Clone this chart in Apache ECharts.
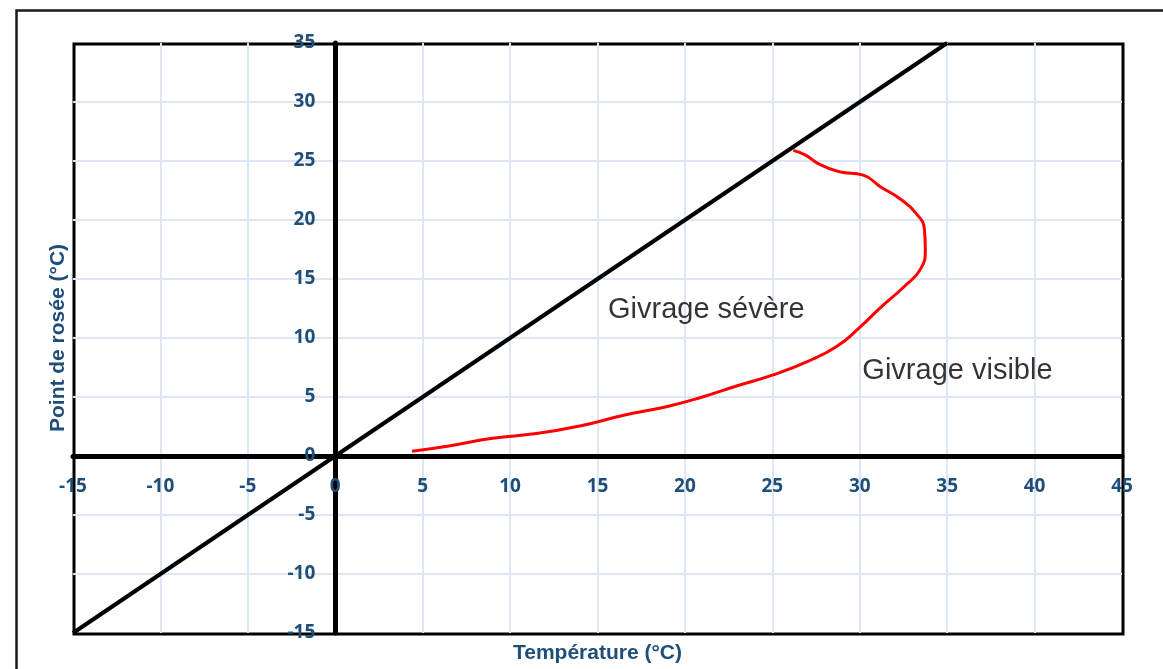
<!DOCTYPE html>
<html>
<head>
<meta charset="utf-8">
<title>Givrage – point de rosée / température</title>
<script src="https://cdn.jsdelivr.net/npm/echarts@6/dist/echarts.min.js"></script>
<style>
  html, body { margin: 0; padding: 0; background: #ffffff; }
  #chart { width: 1163px; height: 669px; }
</style>
</head>
<body>
<div id="chart"></div>
<script>
// Axis ranges and tick step (°C)
const xRange = [-15, 45];
const yRange = [-15, 35];
const tickStep = 5;

// Saturation line: dew point equals temperature
const saturationTemp = [-15, 35];
const saturationDew = [-15, 35];

// Boundary of the icing envelope (temperature, dew point)
const envelopeTemp = [4.4, 6.5, 9.0, 11.5, 14.0, 16.5, 19.0, 21.0, 23.0, 25.0, 27.0, 28.7, 30.0,
  31.2, 32.5, 33.5, 33.75, 33.7, 33.2, 32.3, 31.2, 30.2, 28.8, 27.6, 26.9, 26.2];
const envelopeDew = [0.4, 0.85, 1.5, 1.9, 2.55, 3.45, 4.2, 5.0, 5.95, 6.85, 8.0, 9.3, 10.9,
  12.6, 14.3, 15.9, 17.5, 19.2, 20.6, 21.8, 22.8, 23.8, 24.1, 24.8, 25.5, 25.9];

// Zone captions and their anchor points (temperature, dew point)
const zoneNames = ['Givrage sévère', 'Givrage visible'];
const zoneTemp = [15.6, 30.15];
const zoneDew = [12.4, 7.2];

const xTitle = 'Température (°C)';
const yTitle = 'Point de rosée (°C)';

const zip = (a, b) => a.map((v, i) => [v, b[i]]);

// Plot area geometry (px)
const W = 1163, H = 669;
const gridBox = { left: 73, top: 43, right: 41, bottom: 36 };
const plotW = W - gridBox.left - gridBox.right;
const plotH = H - gridBox.top - gridBox.bottom;
// Shift the labelled axes inward so they sit on the zero lines
const xAxisShift = -plotH * (0 - yRange[0]) / (yRange[1] - yRange[0]);
const yAxisShift = -plotW * (0 - xRange[0]) / (xRange[1] - xRange[0]);

const labelColor = '#1F4E79';
const gridColor = '#DCE6F4';

const tickLabel = {
  color: labelColor,
  fontFamily: 'Open Sans',
  fontWeight: 'bold',
  fontSize: 19
};

const splitStyle = {
  show: true,
  showMinLine: false,
  showMaxLine: false,
  lineStyle: { color: gridColor, width: 2 }
};

const chart = echarts.init(document.getElementById('chart'), null, { renderer: 'canvas' });

chart.setOption({
  animation: false,
  backgroundColor: '#ffffff',
  graphic: [{
    // outer frame
    type: 'rect',
    left: 14,
    top: 8,
    shape: { width: 1200, height: 700 },
    style: { fill: 'none', stroke: '#1a1a1a', lineWidth: 2.5 },
    z: -1
  }, {
    // plot area frame
    type: 'rect',
    left: gridBox.left - 1.5,
    top: gridBox.top - 1.5,
    shape: { width: plotW, height: plotH },
    style: { fill: 'none', stroke: '#000000', lineWidth: 3 },
    z: 0
  }],
  grid: Object.assign({
    show: false
  }, gridBox),
  xAxis: [{
    type: 'value',
    min: xRange[0], max: xRange[1], interval: tickStep,
    position: 'bottom',
    offset: xAxisShift,
    axisLine: { show: true, onZero: false, lineStyle: { color: '#000000', width: 5 } },
    axisTick: { show: false },
    axisLabel: Object.assign({ margin: 21 }, tickLabel),
    splitLine: splitStyle
  }, {
    type: 'value',
    min: xRange[0], max: xRange[1], interval: tickStep,
    position: 'bottom',
    axisLine: { show: false, onZero: false },
    axisTick: { show: false },
    axisLabel: { show: false },
    splitLine: { show: false },
    name: xTitle,
    nameLocation: 'middle',
    nameGap: 10,
    nameTextStyle: {
      color: labelColor, fontFamily: 'Liberation Sans', fontWeight: 'bold', fontSize: 21,
      verticalAlign: 'top'
    }
  }],
  yAxis: [{
    type: 'value',
    min: yRange[0], max: yRange[1], interval: tickStep,
    position: 'left',
    offset: yAxisShift,
    axisLine: { show: true, onZero: false, lineStyle: { color: '#000000', width: 5 } },
    axisTick: { show: false },
    axisLabel: Object.assign({ margin: 20 }, tickLabel),
    splitLine: splitStyle
  }, {
    type: 'value',
    min: yRange[0], max: yRange[1], interval: tickStep,
    position: 'left',
    axisLine: { show: false, onZero: false },
    axisTick: { show: false },
    axisLabel: { show: false },
    splitLine: { show: false },
    name: yTitle,
    nameLocation: 'middle',
    nameGap: 4,
    nameTextStyle: {
      color: labelColor, fontFamily: 'Liberation Sans', fontWeight: 'bold', fontSize: 21
    }
  }],
  series: [{
    name: 'saturation',
    type: 'line',
    xAxisIndex: 0, yAxisIndex: 0,
    data: zip(saturationTemp, saturationDew),
    showSymbol: false,
    lineStyle: { color: '#000000', width: 4 },
    z: 3
  }, {
    name: 'enveloppe',
    type: 'line',
    xAxisIndex: 0, yAxisIndex: 0,
    data: zip(envelopeTemp, envelopeDew),
    smooth: 0.5,
    showSymbol: false,
    lineStyle: { color: '#FF0000', width: 3 },
    z: 4
  }, {
    name: 'zones',
    type: 'scatter',
    xAxisIndex: 0, yAxisIndex: 0,
    data: zoneNames.map((n, i) => ({ name: n, value: [zoneTemp[i], zoneDew[i]] })),
    symbolSize: 0,
    silent: true,
    label: {
      show: true,
      position: 'right',
      distance: 0,
      formatter: p => p.name,
      color: '#000000',
      fontFamily: 'Liberation Sans',
      fontSize: 29
    },
    z: 5
  }]
});
</script>
</body>
</html>
